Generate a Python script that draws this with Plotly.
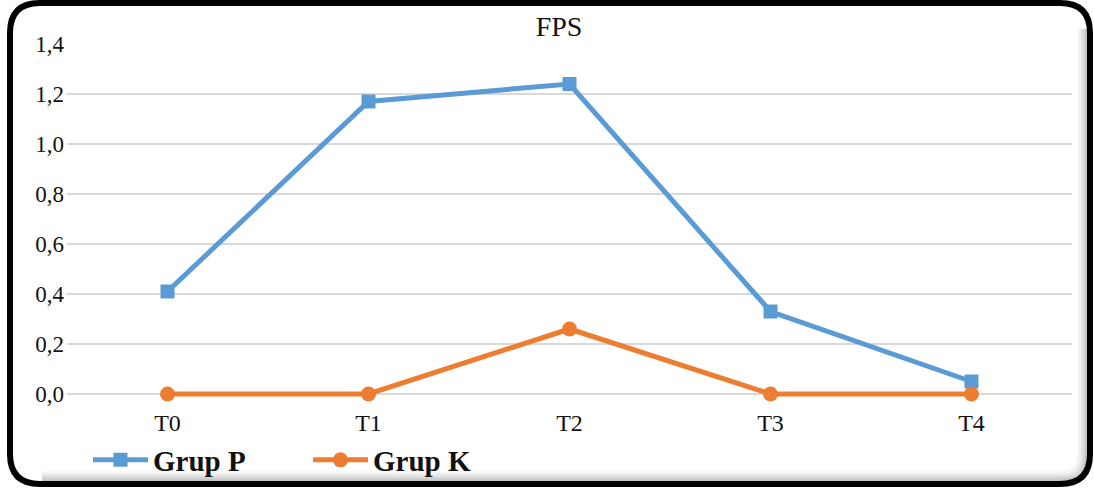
import plotly.graph_objects as go

categories = ["T0", "T1", "T2", "T3", "T4"]
grup_p = [0.41, 1.17, 1.24, 0.33, 0.05]
grup_k = [0.0, 0.0, 0.26, 0.0, 0.0]
y_ticks = [0.0, 0.2, 0.4, 0.6, 0.8, 1.0, 1.2, 1.4]
y_tick_labels = ["0,0", "0,2", "0,4", "0,6", "0,8", "1,0", "1,2", "1,4"]

FIG_W, FIG_H = 1094, 488
Y_MIN, Y_MAX = -0.04, 1.4
L, R, T, B = 67, 22, 44, 84
PW = FIG_W - L - R
PH = FIG_H - T - B
BOT = FIG_H - B


def p(x, y):
    return (x - L) / PW, (BOT - y) / PH


def fmt(x, y):
    a, b = p(x, y)
    return f"{a:.5f},{b:.5f}"


fig = go.Figure()
fig.add_trace(go.Scatter(
    x=categories, y=grup_p, name="Grup P", mode="lines+markers",
    line=dict(color="#5B9BD5", width=5),
    marker=dict(symbol="square", size=14, color="#5B9BD5"),
    cliponaxis=False,
))
fig.add_trace(go.Scatter(
    x=categories, y=grup_k, name="Grup K", mode="lines+markers",
    line=dict(color="#ED7D31", width=5),
    marker=dict(symbol="circle", size=15, color="#ED7D31"),
    cliponaxis=False,
))

shapes = []
# inner shadow on right and bottom
left, top, right, bottom, r = 10, 3, 1090, 484, 30
N = 12
for i in range(N):
    d = 3.0 + i
    alpha = 0.28 * (1 - i / N) ** 1.6
    path = (f"M {fmt(right - d, top + r - 4)} L {fmt(right - d, bottom - r)} "
            f"Q {fmt(right - d, bottom - d)} {fmt(right - r, bottom - d)} "
            f"L {fmt(left + r + 2, bottom - d)}")
    shapes.append(dict(type="path", path=path, xref="paper", yref="paper",
                       line=dict(color=f"rgba(0,0,0,{alpha:.3f})", width=1)))
border = (f"M {fmt(left + r, top)} L {fmt(right - r, top)} "
          f"Q {fmt(right, top)} {fmt(right, top + r)} "
          f"L {fmt(right, bottom - r)} Q {fmt(right, bottom)} {fmt(right - r, bottom)} "
          f"L {fmt(left + r, bottom)} Q {fmt(left, bottom)} {fmt(left, bottom - r)} "
          f"L {fmt(left, top + r)} Q {fmt(left, top)} {fmt(left + r, top)} Z")
shapes.append(dict(type="path", path=border, xref="paper", yref="paper",
                   line=dict(color="black", width=6)))

fig.update_layout(
    width=FIG_W, height=FIG_H,
    margin=dict(l=L, r=R, t=T, b=B, pad=0, autoexpand=False),
    paper_bgcolor="white", plot_bgcolor="white",
    font=dict(family="Liberation Serif", size=24, color="#111111"),
    title=dict(text="FPS", x=559 / FIG_W, xanchor="center",
               y=1 - 26 / FIG_H, yanchor="middle",
               font=dict(family="Liberation Serif", size=28, color="#111111")),
    xaxis=dict(range=[-0.5, 4.5], showgrid=False, showline=False, zeroline=False,
               ticks="", ticklabelstandoff=2,
               tickfont=dict(family="Liberation Serif", size=24, color="#111111")),
    yaxis=dict(range=[Y_MIN, Y_MAX], tickvals=y_ticks, ticktext=y_tick_labels,
               showgrid=True, gridcolor="#D9D9D9", gridwidth=1.5,
               zeroline=False, showline=False, ticks="", ticklabelstandoff=2,
               tickfont=dict(family="Liberation Serif", size=23, color="#111111")),
    showlegend=True,
    legend=dict(orientation="h", x=p(88, 0)[0], xanchor="left",
                y=p(0, 460)[1], yanchor="middle",
                itemwidth=55, entrywidth=150, entrywidthmode="pixels",
                font=dict(family="Liberation Serif", size=29, color="#111111", weight="bold"),
                bgcolor="rgba(0,0,0,0)"),
    shapes=shapes,
)

fig.write_html("out.html", config={"displayModeBar": False},
               post_script="document.body.style.margin='0';document.body.style.overflow='hidden';")
